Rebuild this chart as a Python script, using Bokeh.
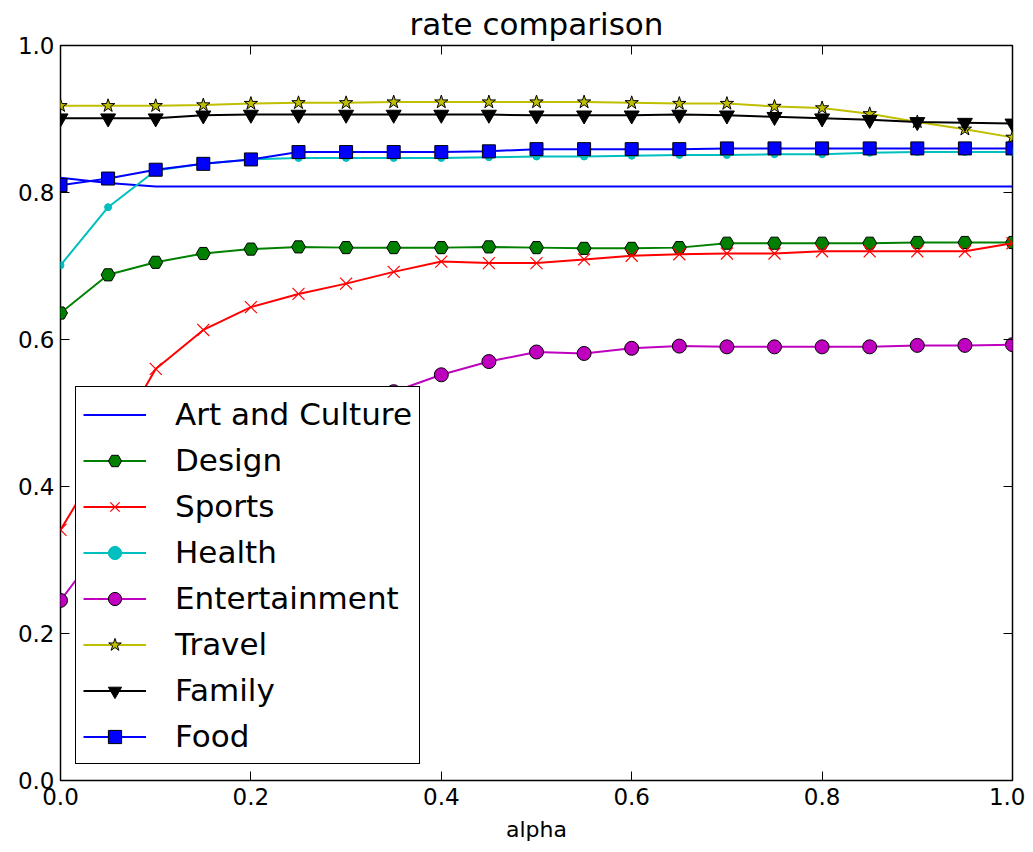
from bokeh.plotting import figure
from bokeh.models import Legend, LegendItem, LinearAxis, Range1d, FixedTicker, PrintfTickFormatter
from bokeh.embed import file_html
from bokeh.resources import INLINE

alpha = [0.0, 0.05, 0.1, 0.15, 0.2, 0.25, 0.3, 0.35, 0.4, 0.45, 0.5,
         0.55, 0.6, 0.65, 0.7, 0.75, 0.8, 0.85, 0.9, 0.95, 1.0]

art_and_culture = [0.820, 0.813, 0.808, 0.808, 0.808, 0.808, 0.808, 0.808, 0.808, 0.808, 0.808,
                   0.808, 0.808, 0.808, 0.808, 0.808, 0.808, 0.808, 0.808, 0.808, 0.808]
design = [0.636, 0.688, 0.705, 0.717, 0.723, 0.726, 0.725, 0.725, 0.725, 0.726, 0.725,
          0.724, 0.724, 0.725, 0.731, 0.731, 0.731, 0.731, 0.732, 0.732, 0.732]
sports = [0.341, 0.448, 0.560, 0.613, 0.644, 0.662, 0.676, 0.692, 0.706, 0.704, 0.704,
          0.709, 0.714, 0.716, 0.717, 0.717, 0.720, 0.720, 0.720, 0.720, 0.731]
health = [0.701, 0.780, 0.830, 0.839, 0.845, 0.847, 0.847, 0.847, 0.847, 0.848, 0.849,
          0.849, 0.850, 0.851, 0.851, 0.852, 0.852, 0.854, 0.855, 0.855, 0.855]
entertainment = [0.245, 0.330, 0.400, 0.440, 0.470, 0.495, 0.512, 0.529, 0.552, 0.570, 0.583,
                 0.581, 0.588, 0.591, 0.590, 0.590, 0.590, 0.590, 0.592, 0.592, 0.593]
travel = [0.918, 0.918, 0.918, 0.919, 0.921, 0.922, 0.922, 0.923, 0.923, 0.923, 0.923,
          0.923, 0.922, 0.921, 0.921, 0.917, 0.915, 0.907, 0.896, 0.886, 0.875]
family = [0.901, 0.901, 0.901, 0.905, 0.906, 0.906, 0.906, 0.906, 0.906, 0.906, 0.905,
          0.905, 0.905, 0.906, 0.905, 0.903, 0.901, 0.899, 0.896, 0.895, 0.894]
food = [0.810, 0.819, 0.831, 0.839, 0.845, 0.855, 0.855, 0.855, 0.855, 0.856, 0.859,
        0.859, 0.859, 0.859, 0.860, 0.860, 0.860, 0.860, 0.860, 0.860, 0.860]

tick_values = [0.0, 0.2, 0.4, 0.6, 0.8, 1.0]

FONT = "DejaVu Sans"

p = figure(width=1025, height=844, output_backend="svg", toolbar_location=None,
           x_range=Range1d(0, 1), y_range=Range1d(0, 1),
           min_border_left=60, min_border_right=13, min_border_top=44, min_border_bottom=63,
           background_fill_color="white", border_fill_color="white")

p.title.text = "rate comparison"
p.title.text_font = FONT
p.title.text_font_size = "31px"
p.title.text_font_style = "normal"
p.title.text_color = "black"
p.title.align = "center"
p.title.offset = 0
p.title.standoff = 7

p.xgrid.visible = False
p.ygrid.visible = False
p.outline_line_color = "black"
p.outline_line_width = 1.5
p.outline_line_alpha = 1.0

def style_axis(ax, labels=True):
    ax.ticker = FixedTicker(ticks=tick_values)
    ax.formatter = PrintfTickFormatter(format="%.1f")
    ax.minor_tick_line_color = None
    ax.major_tick_in = 9
    ax.major_tick_out = 0
    ax.major_tick_line_color = "black"
    ax.major_tick_line_width = 1
    ax.axis_line_color = None
    if labels:
        ax.major_label_text_font = FONT
        ax.major_label_text_font_size = "23px"
        ax.major_label_text_color = "black"
        ax.major_label_standoff = 6
    else:
        ax.major_label_text_color = None
        ax.major_label_standoff = 0

style_axis(p.xaxis[0])
style_axis(p.yaxis[0])
p.xaxis.axis_label = "alpha"
p.xaxis.axis_label_text_font = FONT
p.xaxis.axis_label_text_font_size = "22px"
p.xaxis.axis_label_text_font_style = "normal"
p.xaxis.axis_label_text_color = "black"
p.xaxis.axis_label_standoff = 9
p.xaxis[0].major_label_standoff = 7

top_ax = LinearAxis()
style_axis(top_ax, labels=False)
p.add_layout(top_ax, "above")
right_ax = LinearAxis()
style_axis(right_ax, labels=False)
p.add_layout(right_ax, "right")

items = []

def add_series(name, ys, color, marker, size, fill, edge, lw=2):
    r_line = p.line(alpha, ys, line_color=color, line_width=lw)
    rs = [r_line]
    if marker is not None:
        if marker == "x":
            r_m = p.scatter(alpha, ys, marker="x", size=size, line_color=color, line_width=1.2)
        else:
            r_m = p.scatter(alpha, ys, marker=marker, size=size, fill_color=fill,
                            line_color=edge, line_width=1)
        rs.append(r_m)
    items.append(LegendItem(label=name, renderers=rs))

add_series("Art and Culture", art_and_culture, "#0000ff", None, 0, None, None)
add_series("Design", design, "#008000", "hex", 14, "#008000", "black")
add_series("Sports", sports, "#ff0000", "x", 17, None, None)
add_series("Health", health, "#00bfbf", "circle", 7, "#00bfbf", "#00bfbf")
add_series("Entertainment", entertainment, "#bf00bf", "circle", 14, "#bf00bf", "black")
add_series("Travel", travel, "#bfbf00", "star", 14, "#bfbf00", "black")
add_series("Family", family, "#000000", "inverted_triangle", 15, "#000000", "black")
add_series("Food", food, "#0000ff", "square", 13, "#0000ff", "black")

legend = Legend(items=items, location=(15, 16))
legend.label_text_font = FONT
legend.label_text_font_size = "31px"
legend.label_text_color = "black"
legend.border_line_color = "black"
legend.border_line_width = 1.5
legend.border_line_alpha = 1.0
legend.background_fill_color = "white"
legend.background_fill_alpha = 1.0
legend.padding = 7
legend.margin = 0
legend.spacing = 6
legend.label_height = 40
legend.glyph_height = 33
legend.glyph_width = 63
legend.label_standoff = 29
p.add_layout(legend, "center")

open("out.html", "w").write(file_html(p, INLINE))
